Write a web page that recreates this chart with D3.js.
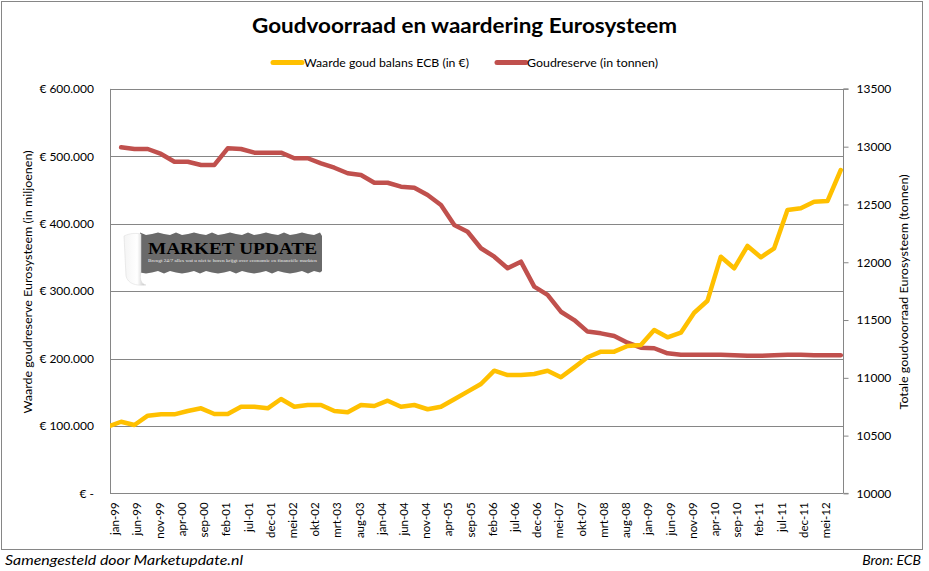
<!DOCTYPE html>
<html><head><meta charset="utf-8">
<script src="https://cdn.jsdelivr.net/npm/d3@7"></script>
<style>
html,body{margin:0;padding:0;background:#fff;}
svg{display:block;font-family:Lato,"Open Sans",sans-serif;}
</style></head>
<body>
<svg id="chart" width="929" height="571"></svg>
<script>
// ---------- data ----------
const quarters = ["dec-98","mrt-99","jun-99","sep-99","dec-99","mrt-00","jun-00","sep-00","dec-00","mrt-01","jun-01","sep-01","dec-01","mrt-02","jun-02","sep-02","dec-02","mrt-03","jun-03","sep-03","dec-03","mrt-04","jun-04","sep-04","dec-04","mrt-05","jun-05","sep-05","dec-05","mrt-06","jun-06","sep-06","dec-06","mrt-07","jun-07","sep-07","dec-07","mrt-08","jun-08","sep-08","dec-08","mrt-09","jun-09","sep-09","dec-09","mrt-10","jun-10","sep-10","dec-10","mrt-11","jun-11","sep-11","dec-11","mrt-12","jun-12","sep-12"];
const goldValue = [99000,106300,101500,115300,117300,117300,122200,126200,117800,117800,128600,128600,126200,140000,128600,131100,131100,122200,120300,131100,129600,137500,128600,131100,124800,128600,139600,150900,162300,182000,175600,175600,177100,182000,172200,187000,201900,210200,210200,218600,220100,242400,231500,238400,268000,285800,351100,333900,367000,350200,363600,420400,422900,432700,433700,479700];
const goldTonnes = [null,12995,12980,12980,12937,12870,12870,12842,12842,12986,12980,12948,12948,12948,12900,12900,12856,12818,12770,12755,12688,12688,12654,12645,12582,12495,12322,12264,12121,12048,11948,12005,11789,11717,11572,11500,11400,11385,11362,11304,11261,11256,11212,11200,11200,11200,11200,11195,11190,11190,11195,11200,11200,11195,11195,11195];
const xTickLabels = ["jan-99","jun-99","nov-99","apr-00","sep-00","feb-01","jul-01","dec-01","mei-02","okt-02","mrt-03","aug-03","jan-04","jun-04","nov-04","apr-05","sep-05","feb-06","jul-06","dec-06","mei-07","okt-07","mrt-08","aug-08","jan-09","jun-09","nov-09","apr-10","sep-10","feb-11","jul-11","dec-11","mei-12"];
const leftTicks = [0,100000,200000,300000,400000,500000,600000];
const rightTicks = [10000,10500,11000,11500,12000,12500,13000,13500];
const seriesNames = ["Waarde goud balans ECB (in €)","Goudreserve (in tonnen)"];
const seriesColors = ["#FFC000","#C0504D"];

const monthNames = ["jan","feb","mrt","apr","mei","jun","jul","aug","sep","okt","nov","dec"];
function monthIndex(s){
  const [m,y] = s.split("-");
  const yr = (+y < 50 ? 2000 : 1900) + (+y);
  return (yr-1999)*12 + monthNames.indexOf(m);
}

// ---------- layout ----------
const svg = d3.select("#chart");
const L = 110, R = 843, T = 88.9, B = 493.4;
const grid = "#868686";

const x = d3.scaleLinear().domain([-0.5, 164.5]).range([L, R]);
const yL = d3.scaleLinear().domain([0, 600000]).range([B, T]);
const yR = d3.scaleLinear().domain([10000, 13500]).range([B, T]);

// outer border
svg.append("rect").attr("x",1.5).attr("y",1.5).attr("width",921).attr("height",548)
  .attr("fill","#fff").attr("stroke",grid).attr("stroke-width",1);

// title
svg.append("text").attr("x",464.5).attr("y",33).attr("text-anchor","middle")
  .attr("font-size",21).attr("font-weight","bold").attr("fill","#000")
  .attr("textLength",425).attr("lengthAdjust","spacingAndGlyphs")
  .text("Goudvoorraad en waardering Eurosysteem");

// legend
const legendPos = [{x0:273,x1:302,tx:304,tw:165},{x0:497,x1:526,tx:527,tw:131}];
legendPos.forEach((l,i)=>{
  svg.append("line").attr("x1",l.x0).attr("x2",l.x1).attr("y1",62.5).attr("y2",62.5)
    .attr("stroke",seriesColors[i]).attr("stroke-width",5).attr("stroke-linecap","round");
  svg.append("text").attr("x",l.tx).attr("y",66.5).attr("font-size",11.5).attr("fill","#000")
    .attr("textLength",l.tw).attr("lengthAdjust","spacingAndGlyphs").text(seriesNames[i]);
});

// gridlines
svg.append("g").selectAll("line").data(leftTicks).join("line")
  .attr("x1",L).attr("x2",R).attr("y1",d=>Math.round(yL(d))+0.5).attr("y2",d=>Math.round(yL(d))+0.5)
  .attr("stroke",grid).attr("stroke-width",1);

// left axis line
svg.append("line").attr("x1",L+0.5).attr("x2",L+0.5).attr("y1",T).attr("y2",B+0.5).attr("stroke",grid);

// left axis labels
const leftAxis = d3.axisLeft(yL).tickValues(leftTicks).tickSize(0).tickPadding(0)
  .tickFormat(d => d===0 ? "€ -" : "€ " + d3.format(",")(d).replace(/,/g,"."));
const gl = svg.append("g").attr("transform",`translate(${L-16},0)`).call(leftAxis);
gl.select(".domain").remove();
gl.selectAll("text").attr("font-size",12).attr("fill","#000").attr("font-family","Lato");

// right axis
const rightAxis = d3.axisRight(yR).tickValues(rightTicks).tickSize(5).tickPadding(8).tickFormat(d3.format("d"));
const gr = svg.append("g").attr("transform",`translate(${R+0.5},0)`).call(rightAxis);
gr.select(".domain").attr("stroke",grid).attr("d",`M5,${T}H0V${B}H5`);
gr.selectAll(".tick line").attr("stroke",grid);
gr.selectAll("text").attr("font-size",12).attr("fill","#000").attr("font-family","Lato");

// bottom axis
const bottomAxis = d3.axisBottom(x).tickValues(xTickLabels.map(monthIndex)).tickSize(0)
  .tickFormat((d,i)=>xTickLabels[i]);
const gb = svg.append("g").attr("transform",`translate(0,${B})`).call(bottomAxis);
gb.select(".domain").remove();
gb.selectAll("text").attr("font-size",11.5).attr("fill","#000").attr("font-family","Lato")
  .attr("text-anchor","end").attr("transform","rotate(-90)")
  .attr("x",-9).attr("y",0).attr("dy","0.35em").attr("dx",0);
gb.selectAll(".tick").attr("transform",d=>`translate(${x(d)+3},0)`);

// axis titles
svg.append("text").attr("transform","translate(32,282) rotate(-90)").attr("text-anchor","middle")
  .attr("font-size",11.5).attr("fill","#000").attr("textLength",263).attr("lengthAdjust","spacingAndGlyphs")
  .text("Waarde goudreserve Eurosysteem (in miljoenen)");
svg.append("text").attr("transform","translate(908,292) rotate(-90)").attr("text-anchor","middle")
  .attr("font-size",11.5).attr("fill","#000").attr("textLength",235).attr("lengthAdjust","spacingAndGlyphs")
  .text("Totale goudvoorraad Eurosysteem (tonnen)");

// logo (decorative)
const logo = svg.append("g");
const defs = svg.append("defs");
const grad = defs.append("linearGradient").attr("id","curl").attr("x1","0").attr("x2","1");
grad.append("stop").attr("offset","0").attr("stop-color","#f4f4f4");
grad.append("stop").attr("offset","0.6").attr("stop-color","#ffffff");
grad.append("stop").attr("offset","1").attr("stop-color","#bdbdbd");
let edgeTop = "M140,235", edgeBot = "";
for(let i=0;i<=30;i++){ const xx=140+i*6; edgeTop += ` L${xx},${234 + (i%3===0?-1.5:(i%2?1:0))}`; }
for(let i=30;i>=0;i--){ const xx=140+i*6; edgeBot += ` L${xx},${272 + (i%3===1?1.5:(i%2?-1:0.5))}`; }
logo.append("path").attr("d", edgeTop + " L322,236 L322,271" + edgeBot + " Z").attr("fill","#6a6a6a");
logo.append("path").attr("d","M124,236 C130,233 136,233 141,234 L141,272 C139,280 142,284 146,285 C136,286 128,284 126,276 Z")
  .attr("fill","url(#curl)").attr("stroke","#d8d8d8").attr("stroke-width",0.5);
logo.append("text").attr("x",148).attr("y",254).attr("font-family","'Liberation Serif',serif").attr("font-weight","bold")
  .attr("font-size",17).attr("fill","#000").attr("textLength",169).attr("lengthAdjust","spacingAndGlyphs").text("MARKET UPDATE");
logo.append("text").attr("x",148).attr("y",261.5).attr("font-family","'Liberation Serif',serif")
  .attr("font-size",4.6).attr("fill","#eee").attr("textLength",169).attr("lengthAdjust","spacingAndGlyphs")
  .text("Brengt 24/7 alles wat u niet te horen krijgt over economie en financiële markten");

// clip
defs.append("clipPath").attr("id","plotclip").append("rect")
  .attr("x",L).attr("y",T-5).attr("width",R-L).attr("height",B-T+5);

// series
const pts = quarters.map((q,i)=>({m:monthIndex(q), v:goldValue[i], t:goldTonnes[i]}));
const lineV = d3.line().x(d=>x(d.m)).y(d=>yL(d.v));
const lineT = d3.line().defined(d=>d.t!=null).x(d=>x(d.m)).y(d=>yR(d.t));
const plot = svg.append("g").attr("clip-path","url(#plotclip)");
plot.append("path").datum(pts).attr("d",lineT).attr("fill","none")
  .attr("stroke",seriesColors[1]).attr("stroke-width",4.5).attr("stroke-linejoin","round").attr("stroke-linecap","round");
plot.append("path").datum(pts).attr("d",lineV).attr("fill","none")
  .attr("stroke",seriesColors[0]).attr("stroke-width",4.5).attr("stroke-linejoin","round").attr("stroke-linecap","round");

// footer
svg.append("text").attr("x",5).attr("y",565).attr("font-style","italic").attr("font-size",14)
  .attr("fill","#000").attr("textLength",238).attr("lengthAdjust","spacingAndGlyphs")
  .text("Samengesteld door Marketupdate.nl");
svg.append("text").attr("x",921).attr("y",565).attr("text-anchor","end").attr("font-style","italic").attr("font-size",14)
  .attr("fill","#000").text("Bron: ECB");
</script>
</body></html>
